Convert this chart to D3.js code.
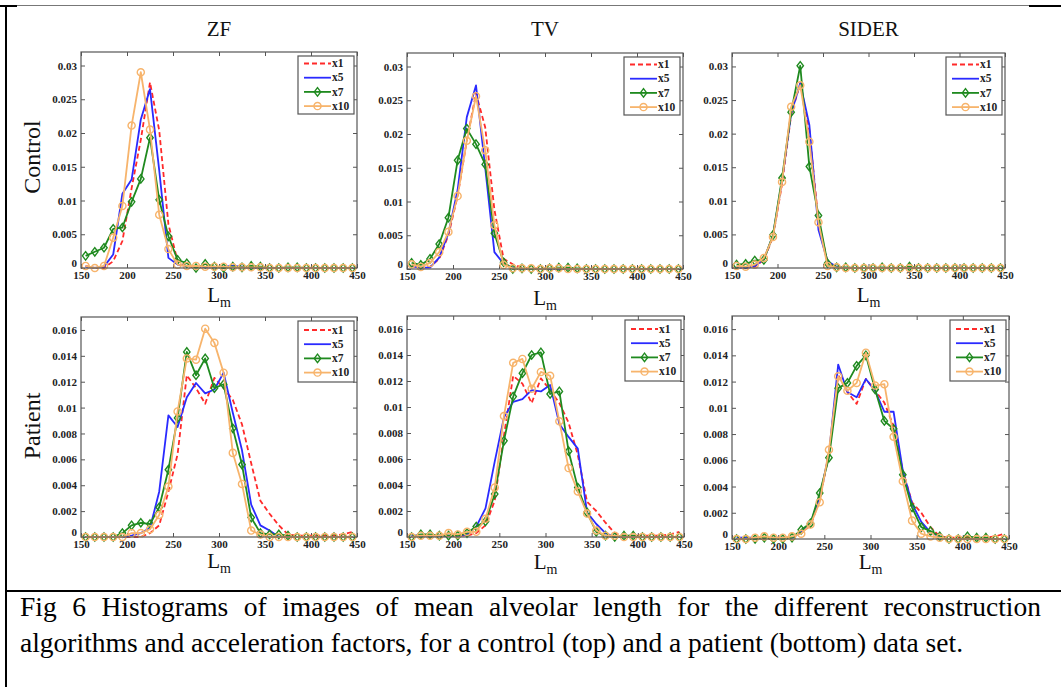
<!DOCTYPE html>
<html>
<head>
<meta charset="utf-8">
<script src="https://cdn.jsdelivr.net/npm/d3@7"></script>
<style>
  html, body { margin: 0; padding: 0; background: #fff; }
  svg { display: block; }
  text { font-family: "Liberation Serif", "Times New Roman", serif; }
</style>
</head>
<body>
<svg id="figure" width="1061" height="687"></svg>
<script>
(function () {
  // bin centres of the L_m histograms
  const bins = [155, 165, 175, 185, 195, 205, 215, 225, 235, 245, 255, 265, 275, 285, 295,
    305, 315, 325, 335, 345, 355, 365, 375, 385, 395, 405, 415, 425, 435, 445];

  const methods = ["ZF", "TV", "SIDER"];
  const groups = ["Control", "Patient"];
  const factors = ["x1", "x5", "x7", "x10"];

  const xTicks = [150, 200, 250, 300, 350, 400, 450];
  const controlTicks = [0, 0.005, 0.01, 0.015, 0.02, 0.025, 0.03];
  const controlTickLabels = ["0", "0.005", "0.01", "0.015", "0.02", "0.025", "0.03"];
  const patientTicks = [0, 0.002, 0.004, 0.006, 0.008, 0.01, 0.012, 0.014, 0.016];
  const patientTickLabels = ["0", "0.002", "0.004", "0.006", "0.008", "0.01", "0.012", "0.014", "0.016"];
  const controlYMax = 0.032;
  const patientYMax = 0.017;

  // Control, ZF
  const zfControlX1 = [0.0003, 0, 0, 0.001, 0.004, 0.0118, 0.019, 0.0275, 0.0204, 0.0065, 0.001, 0.0002, 0.0001, 0.0001, 0.0001, 0.0001, 0.0001, 0.0001, 0, 0, 0, 0, 0, 0, 0, 0, 0, 0, 0, 0];
  const zfControlX5 = [0.0002, 0, 0.0002, 0.002, 0.011, 0.0131, 0.022, 0.0265, 0.0145, 0.0015, 0.0005, 0.0003, 0.0002, 0.0001, 0.0001, 0.0002, 0.0003, 0.0002, 0.0001, 0, 0, 0, 0, 0, 0, 0, 0, 0, 0, 0];
  const zfControlX7 = [0.0018, 0.0024, 0.003, 0.0058, 0.006, 0.0098, 0.0132, 0.0193, 0.0101, 0.0047, 0.0012, 0.0007, 0, 0.0006, 0.0002, 0, 0.0002, 0.0001, 0.0003, 0.0002, 0, 0, 0.0001, 0.0001, 0, 0, 0, 0, 0, 0];
  const zfControlX10 = [0.0003, 0, 0.0003, 0.0045, 0.0092, 0.0211, 0.029, 0.0205, 0.0079, 0.0028, 0.0005, 0.0003, 0.0003, 0.0002, 0.0002, 0.0002, 0.0001, 0.0001, 0.0001, 0.0001, 0, 0, 0, 0, 0, 0, 0, 0, 0, 0];

  // Control, TV
  const tvControlX1 = [0.0005, 0.0002, 0.0003, 0.0015, 0.005, 0.0108, 0.019, 0.026, 0.021, 0.0088, 0.0015, 0.0007, 0.0002, 0.0001, 0.0001, 0, 0, 0, 0, 0, 0, 0, 0, 0, 0, 0, 0, 0, 0, 0];
  const tvControlX5 = [0.0004, 0.0002, 0.0002, 0.0017, 0.0053, 0.0117, 0.0225, 0.0272, 0.015, 0.0025, 0.0008, 0.0002, 0, 0, 0, 0, 0, 0, 0, 0, 0, 0, 0, 0, 0, 0, 0, 0, 0, 0];
  const tvControlX7 = [0.0009, 0.0006, 0.0015, 0.0037, 0.0076, 0.0161, 0.0208, 0.0185, 0.0155, 0.0053, 0.001, 0, 0.0001, 0, 0, 0.0001, 0.0002, 0.0002, 0.0001, 0, 0, 0, 0, 0, 0, 0, 0, 0, 0, 0];
  const tvControlX10 = [0.0007, 0.0003, 0.0009, 0.0025, 0.0055, 0.0108, 0.019, 0.0256, 0.0176, 0.0065, 0.0006, 0.0001, 0.0001, 0.0001, 0, 0.0001, 0.0001, 0, 0, 0, 0, 0, 0, 0, 0, 0, 0, 0, 0, 0];

  // Control, SIDER
  const siderControlX1 = [0.0001, 0, 0.0002, 0.0012, 0.0046, 0.0125, 0.0228, 0.0275, 0.0205, 0.007, 0.0008, 0.0001, 0, 0, 0, 0, 0, 0, 0, 0, 0, 0, 0, 0, 0, 0, 0, 0, 0, 0];
  const siderControlX5 = [0.0001, 0, 0.0003, 0.0013, 0.0048, 0.013, 0.023, 0.0275, 0.0213, 0.0057, 0.001, 0.0002, 0, 0, 0, 0, 0, 0, 0, 0, 0, 0, 0, 0, 0, 0, 0, 0, 0, 0];
  const siderControlX7 = [0.0005, 0.0006, 0.0011, 0.0012, 0.0049, 0.0134, 0.0232, 0.0301, 0.0151, 0.0078, 0.0007, 0.0001, 0.0001, 0, 0, 0, 0.0001, 0, 0, 0.0002, 0, 0, 0, 0, 0, 0, 0, 0, 0, 0];
  const siderControlX10 = [0.0003, 0.0002, 0.0005, 0.0015, 0.0046, 0.0128, 0.024, 0.0272, 0.0188, 0.0068, 0.0003, 0.0001, 0, 0, 0, 0, 0, 0, 0, 0, 0, 0, 0, 0, 0, 0, 0, 0, 0, 0];

  // Patient, ZF
  const zfPatientX1 = [0, 0, 0, 0, 0, 0, 0, 0.0003, 0.0009, 0.0035, 0.0064, 0.0125, 0.0115, 0.0103, 0.0123, 0.0115, 0.0106, 0.0087, 0.0057, 0.0028, 0.0018, 0.0009, 0.0002, 0.0001, 0.0001, 0.0001, 0.0001, 0.0001, 0.0002, 0.0004];
  const zfPatientX5 = [0, 0, 0, 0, 0, 0.0001, 0.0003, 0.0007, 0.0035, 0.0094, 0.0085, 0.0108, 0.0119, 0.0111, 0.0114, 0.0127, 0.0096, 0.0067, 0.0025, 0.0009, 0.0005, 0, 0, 0, 0, 0, 0, 0, 0, 0];
  const zfPatientX7 = [0, 0, 0, 0, 0.0003, 0.0009, 0.0011, 0.001, 0.0023, 0.0052, 0.0092, 0.0143, 0.0125, 0.0138, 0.0115, 0.0118, 0.0084, 0.0056, 0.0015, 0.0003, 0.0002, 0.0002, 0.0001, 0, 0, 0, 0, 0, 0, 0];
  const zfPatientX10 = [0, 0, 0, 0, 0, 0.0003, 0.0003, 0.0006, 0.0017, 0.0039, 0.0097, 0.0138, 0.0137, 0.0161, 0.015, 0.0127, 0.0065, 0.0041, 0.0005, 0.0002, 0, 0, 0, 0, 0, 0, 0, 0, 0, 0];

  // Patient, TV
  const tvPatientX1 = [0.0001, 0.0001, 0.0001, 0.0001, 0.0001, 0.0001, 0.0001, 0.0003, 0.0009, 0.0028, 0.0078, 0.0124, 0.0118, 0.0103, 0.0122, 0.0113, 0.0103, 0.0088, 0.0063, 0.0027, 0.002, 0.0011, 0.0003, 0.0001, 0.0001, 0.0001, 0.0001, 0.0001, 0.0002, 0.0004];
  const tvPatientX5 = [0.0001, 0.0001, 0.0001, 0.0001, 0.0001, 0.0001, 0.0002, 0.0008, 0.0022, 0.0058, 0.0092, 0.0104, 0.0106, 0.0113, 0.0112, 0.0117, 0.0087, 0.0077, 0.0068, 0.0019, 0.001, 0.0003, 0, 0, 0, 0, 0, 0, 0, 0];
  const tvPatientX7 = [0, 0.0002, 0.0002, 0.0001, 0.0001, 0.0001, 0.0003, 0.0008, 0.0012, 0.0033, 0.0074, 0.0108, 0.0126, 0.014, 0.0142, 0.011, 0.0112, 0.0066, 0.0038, 0.0019, 0.0004, 0.0001, 0, 0.0001, 0.0001, 0, 0, 0, 0, 0];
  const tvPatientX10 = [0, 0.0001, 0.0001, 0.0001, 0.0003, 0.0002, 0.0004, 0.0004, 0.0014, 0.0038, 0.0093, 0.0134, 0.0137, 0.0114, 0.0127, 0.0124, 0.0089, 0.0053, 0.0035, 0.0018, 0.0005, 0.0001, 0.0001, 0, 0, 0, 0, 0, 0, 0];

  // Patient, SIDER
  const siderPatientX1 = [0, 0, 0, 0, 0, 0, 0.0001, 0.0005, 0.001, 0.003, 0.0065, 0.0125, 0.0112, 0.0103, 0.0122, 0.0113, 0.0104, 0.0086, 0.0052, 0.0028, 0.002, 0.0009, 0.0002, 0.0001, 0.0001, 0.0001, 0.0001, 0.0001, 0.0002, 0.0004];
  const siderPatientX5 = [0.0001, 0.0001, 0.0001, 0.0001, 0.0001, 0.0001, 0.0001, 0.0005, 0.0012, 0.0032, 0.0065, 0.0133, 0.0112, 0.0108, 0.0122, 0.0113, 0.0097, 0.0097, 0.0052, 0.0027, 0.0013, 0.0005, 0.0002, 0, 0, 0, 0, 0, 0, 0];
  const siderPatientX7 = [0, 0, 0, 0.0001, 0, 0, 0.0001, 0.0007, 0.0012, 0.0035, 0.0062, 0.0115, 0.0119, 0.0132, 0.014, 0.0114, 0.009, 0.0084, 0.0049, 0.0024, 0.0009, 0.0006, 0.0002, 0, 0, 0.0002, 0.0001, 0.0001, 0, 0];
  const siderPatientX10 = [0, 0, 0.0001, 0.0002, 0.0001, 0.0001, 0.0002, 0.0004, 0.0011, 0.0028, 0.0068, 0.0124, 0.0113, 0.0119, 0.0142, 0.0117, 0.0118, 0.0078, 0.0044, 0.0014, 0.0004, 0.0002, 0.0001, 0, 0, 0, 0, 0, 0, 0];

  const captionLines = [
    "Fig 6 Histograms of images of mean alveolar length for the different reconstruction",
    "algorithms and acceleration factors, for a control (top) and a patient (bottom) data set."
  ];

  const panels = [
    { method: 0, group: 0, series: [zfControlX1, zfControlX5, zfControlX7, zfControlX10] },
    { method: 1, group: 0, series: [tvControlX1, tvControlX5, tvControlX7, tvControlX10] },
    { method: 2, group: 0, series: [siderControlX1, siderControlX5, siderControlX7, siderControlX10] },
    { method: 0, group: 1, series: [zfPatientX1, zfPatientX5, zfPatientX7, zfPatientX10] },
    { method: 1, group: 1, series: [tvPatientX1, tvPatientX5, tvPatientX7, tvPatientX10] },
    { method: 2, group: 1, series: [siderPatientX1, siderPatientX5, siderPatientX7, siderPatientX10] }
  ];

  const frames = [
    { x0: 81, x1: 357, y0: 52, y1: 268, lm: 302 },
    { x0: 407, x1: 683, y0: 53, y1: 269, lm: 305 },
    { x0: 732, x1: 1005, y0: 53, y1: 268, lm: 302 },
    { x0: 81, x1: 357, y0: 317, y1: 537, lm: 568 },
    { x0: 407, x1: 684, y0: 316, y1: 537, lm: 569 },
    { x0: 732, x1: 1009, y0: 316, y1: 539, lm: 569 }
  ];

  const styles = [
    { color: "#ff2a2a", dash: "5,3", marker: null },
    { color: "#2a2aff", dash: null, marker: null },
    { color: "#1f8a1f", dash: null, marker: "diamond" },
    { color: "#f7b46c", dash: null, marker: "circle" }
  ];

  const svg = d3.select("#figure");
  const frameColor = "#555";
  const serif = "Liberation Serif, Times New Roman, serif";

  // page borders of the table cell
  const border = svg.append("g").attr("class", "border");
  border.append("line").attr("x1", 6).attr("x2", 1030).attr("y1", 5.5).attr("y2", 5.5)
    .attr("stroke", "#777").attr("stroke-width", 1);
  border.append("line").attr("x1", 1029).attr("x2", 1061).attr("y1", 6).attr("y2", 6)
    .attr("stroke", "#000").attr("stroke-width", 2);
  border.append("line").attr("x1", 0).attr("x2", 17).attr("y1", 6).attr("y2", 6)
    .attr("stroke", "#000").attr("stroke-width", 2);
  border.append("line").attr("x1", 6).attr("x2", 6).attr("y1", 5).attr("y2", 687)
    .attr("stroke", "#000").attr("stroke-width", 2);
  border.append("line").attr("x1", 5).attr("x2", 1061).attr("y1", 591).attr("y2", 591)
    .attr("stroke", "#000").attr("stroke-width", 2);

  function markerPath(kind) {
    if (kind === "diamond") return "M0,-4.2L3.2,0L0,4.2L-3.2,0Z";
    return d3.symbol().type(d3.symbolCircle).size(40)();
  }

  function styleAxis(sel) {
    sel.select(".domain").remove();
    sel.selectAll(".tick line").attr("stroke", frameColor).attr("stroke-width", 1);
    sel.selectAll(".tick text")
      .attr("font-family", serif)
      .attr("font-size", 11)
      .attr("font-weight", "bold")
      .attr("fill", "#222");
  }

  panels.forEach((panel, i) => {
    const f = frames[i];
    const control = panel.group === 0;
    const yMax = control ? controlYMax : patientYMax;
    const yTicks = control ? controlTicks : patientTicks;
    const yLabels = control ? controlTickLabels : patientTickLabels;

    const x = d3.scaleLinear().domain([150, 450]).range([f.x0, f.x1]);
    const y = d3.scaleLinear().domain([0, yMax]).range([f.y1, f.y0]);

    const g = svg.append("g").attr("class", "panel");

    g.append("rect")
      .attr("x", f.x0).attr("y", f.y0)
      .attr("width", f.x1 - f.x0).attr("height", f.y1 - f.y0)
      .attr("fill", "#fff");

    g.append("g")
      .attr("transform", `translate(0,${f.y1})`)
      .call(d3.axisBottom(x).tickValues(xTicks).tickSizeInner(-4).tickSizeOuter(0).tickPadding(3))
      .call(styleAxis);
    g.append("g")
      .attr("transform", `translate(0,${f.y0})`)
      .call(d3.axisTop(x).tickValues(xTicks).tickFormat("").tickSizeInner(-4).tickSizeOuter(0))
      .call(styleAxis);
    const yAxis = g.append("g")
      .attr("transform", `translate(${f.x0},0)`)
      .call(d3.axisLeft(y).tickValues(yTicks).tickFormat((d, k) => yLabels[k])
        .tickSizeInner(-4).tickSizeOuter(0).tickPadding(4))
      .call(styleAxis);
    // the zero label sits just above the corner, clear of the "150"
    yAxis.selectAll(".tick text").filter((d) => d === 0).attr("dy", "-0.12em");
    g.append("g")
      .attr("transform", `translate(${f.x1},0)`)
      .call(d3.axisRight(y).tickValues(yTicks).tickFormat("").tickSizeInner(-4).tickSizeOuter(0))
      .call(styleAxis);

    const line = d3.line()
      .x((d, k) => x(bins[k]))
      .y((d) => y(d));

    panel.series.forEach((values, s) => {
      const st = styles[s];
      const path = g.append("path")
        .datum(values)
        .attr("d", line)
        .attr("fill", "none")
        .attr("stroke", st.color)
        .attr("stroke-width", 1.8)
        .attr("stroke-linejoin", "round");
      if (st.dash) path.attr("stroke-dasharray", st.dash);
      if (st.marker) {
        g.append("g").selectAll("path")
          .data(values)
          .join("path")
          .attr("transform", (d, k) => `translate(${x(bins[k])},${y(d)})`)
          .attr("d", markerPath(st.marker))
          .attr("fill", "none")
          .attr("stroke", st.color)
          .attr("stroke-width", 1.4);
      }
    });

    g.append("rect")
      .attr("x", f.x0).attr("y", f.y0)
      .attr("width", f.x1 - f.x0).attr("height", f.y1 - f.y0)
      .attr("fill", "none")
      .attr("stroke", frameColor)
      .attr("stroke-width", 1.2);

    // legend
    const lw = 56;
    const lh = control ? 58 : 61;
    const lx = f.x1 - 3 - lw;
    const ly = f.y0 + 4;
    const legend = g.append("g").attr("transform", `translate(${lx},${ly})`);
    legend.append("rect")
      .attr("width", lw).attr("height", lh)
      .attr("fill", "#fff").attr("stroke", frameColor).attr("stroke-width", 1.2);
    factors.forEach((name, s) => {
      const st = styles[s];
      const ry = (control ? 7.5 : 9) + s * 14.2;
      const item = legend.append("line")
        .attr("x1", 6).attr("x2", 33).attr("y1", ry).attr("y2", ry)
        .attr("stroke", st.color).attr("stroke-width", 1.8);
      if (st.dash) item.attr("stroke-dasharray", st.dash);
      if (st.marker) {
        legend.append("path")
          .attr("transform", `translate(19.5,${ry})`)
          .attr("d", markerPath(st.marker))
          .attr("fill", "none")
          .attr("stroke", st.color)
          .attr("stroke-width", 1.4);
      }
      legend.append("text")
        .attr("x", 34).attr("y", ry)
        .attr("dy", "0.33em")
        .attr("font-family", serif)
        .attr("font-size", 11.5)
        .attr("font-weight", "bold")
        .attr("fill", "#222")
        .text(name);
    });

    // x-axis label L_m
    const lm = g.append("text")
      .attr("x", (f.x0 + f.x1) / 2)
      .attr("y", f.lm)
      .attr("text-anchor", "middle")
      .attr("font-family", serif)
      .attr("fill", "#111");
    lm.append("tspan").attr("font-size", 21).text("L");
    lm.append("tspan").attr("font-size", 14).attr("dy", 5).text("m");

    // column titles
    if (control) {
      svg.append("text")
        .attr("x", (f.x0 + f.x1) / 2)
        .attr("y", 36)
        .attr("text-anchor", "middle")
        .attr("font-family", serif)
        .attr("font-size", 21)
        .attr("fill", "#111")
        .text(methods[panel.method]);
    }
  });

  // row labels
  [157, 426].forEach((cy, r) => {
    svg.append("text")
      .attr("transform", `translate(40,${cy}) rotate(-90)`)
      .attr("text-anchor", "middle")
      .attr("font-family", serif)
      .attr("font-size", 24)
      .attr("fill", "#111")
      .text(groups[r]);
  });

  // caption, first line justified between the margins
  const captionSize = 27.5;
  const first = svg.append("text")
    .attr("x", 20).attr("y", 616)
    .attr("font-family", serif)
    .attr("font-size", captionSize)
    .attr("fill", "#000")
    .text(captionLines[0]);
  const natural = first.node().getComputedTextLength();
  const gaps = captionLines[0].split(" ").length - 1;
  first.style("word-spacing", `${Math.max(0, (1041 - 20 - natural) / gaps)}px`);

  svg.append("text")
    .attr("x", 20).attr("y", 652)
    .attr("font-family", serif)
    .attr("font-size", captionSize)
    .attr("fill", "#000")
    .text(captionLines[1]);
}());
</script>
</body>
</html>
